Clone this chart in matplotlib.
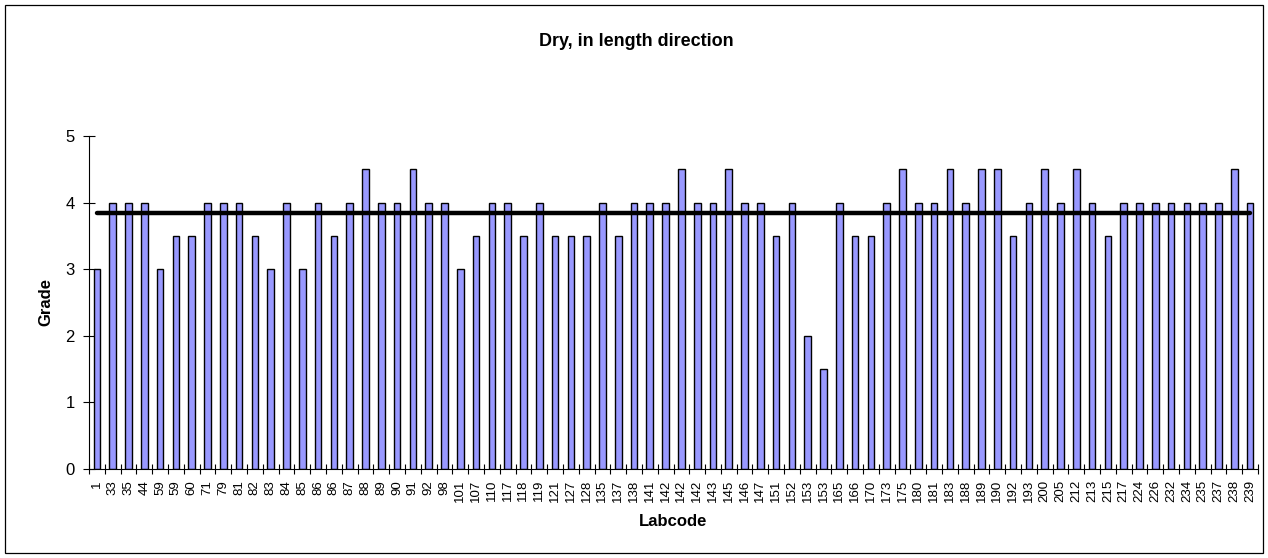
import matplotlib
matplotlib.use('Agg')
import matplotlib.pyplot as plt
import numpy as np
from matplotlib.patches import Rectangle

# Lab codes along the x axis (in chart order)
labcodes = ['1', '33', '35', '44', '59', '59', '60', '71', '79', '81',
            '82', '83', '84', '85', '86', '86', '87', '88', '89', '90',
            '91', '92', '98', '101', '107', '110', '117', '118', '119', '121',
            '127', '128', '135', '137', '138', '141', '142', '142', '142', '143',
            '145', '146', '147', '151', '152', '153', '153', '165', '166', '170',
            '173', '175', '180', '181', '183', '188', '189', '190', '192', '193',
            '200', '205', '212', '213', '215', '217', '224', '226', '232', '234',
            '235', '237', '238', '239']

# Grade per lab
grades = [3, 4, 4, 4, 3, 3.5, 3.5, 4, 4, 4,
          3.5, 3, 4, 3, 4, 3.5, 4, 4.5, 4, 4,
          4.5, 4, 4, 3, 3.5, 4, 4, 3.5, 4, 3.5,
          3.5, 3.5, 4, 3.5, 4, 4, 4, 4.5, 4, 4,
          4.5, 4, 4, 3.5, 4, 2, 1.5, 4, 3.5, 3.5,
          4, 4.5, 4, 4, 4.5, 4, 4.5, 4.5, 3.5, 4,
          4.5, 4, 4.5, 4, 3.5, 4, 4, 4, 4, 4,
          4, 4, 4.5, 4]

yticks = [0, 1, 2, 3, 4, 5]

plt.rcParams['font.family'] = ['Liberation Sans', 'DejaVu Sans']

W, H = 1268, 558
fig = plt.figure(figsize=(W / 100, H / 100), dpi=100)
ax = fig.add_axes([89 / W, 1 - 469 / H, (1258 - 89) / W, (469 - 136) / H])

x = np.arange(len(labcodes))
ax.bar(x, grades, width=0.42, color='#9999FF', edgecolor='black', linewidth=1.0, zorder=2)

# average grade drawn as a line over the bars
mean_grade = np.mean(grades)
ax.plot(x, np.full(len(x), mean_grade), color='black', linewidth=3.2, zorder=3,
        solid_capstyle='round')

ax.set_xlim(-0.5, len(labcodes) - 0.5)
ax.set_ylim(0, 5)
ax.set_yticks(yticks)
ax.set_xticks(x)
ax.set_xticklabels(labcodes, rotation=90, fontsize=9.5)
ax.set_xticks(np.arange(len(labcodes) + 1) - 0.5, minor=True)
ax.tick_params(axis='x', which='major', length=0, pad=8)
ax.tick_params(axis='x', which='minor', length=7, direction='inout', width=0.8)
ax.tick_params(axis='y', length=8.5, direction='inout', width=0.8, labelsize=12, pad=6)

for side in ['top', 'right']:
    ax.spines[side].set_visible(False)
for side in ['left', 'bottom']:
    ax.spines[side].set_linewidth(0.8)

ax.set_xlabel('Labcode', fontsize=12, fontweight='bold', va='center')
ax.xaxis.set_label_coords(0.5, -(521 - 469) / (469 - 136))
ax.set_ylabel('Grade', fontsize=12, fontweight='bold', va='center')
ax.yaxis.set_label_coords((45.5 - 89) / (1258 - 89), 0.5)

fig.text(0.5016, 1 - 42 / H, 'Dry, in length direction', ha='center', va='center',
         fontsize=13, fontweight='bold')

fig.patches.append(Rectangle((5 / W, 5 / H), 1258 / W, 548 / H,
                             transform=fig.transFigure, fill=False,
                             edgecolor='black', linewidth=0.9))

fig.savefig('out.png', dpi=100)
